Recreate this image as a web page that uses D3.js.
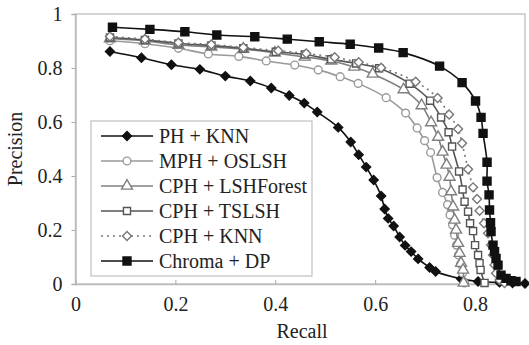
<!DOCTYPE html>
<html><head><meta charset="utf-8">
<script src="https://cdn.jsdelivr.net/npm/d3@7"></script>
<style>body{margin:0;background:#fff}svg{display:block}svg text{font-family:'Liberation Serif','Times New Roman','DejaVu Serif',serif !important;fill:#222}</style>
</head><body><svg id="c" width="529" height="345"></svg>
<script>
const seriesNames = ["PH + KNN","MPH + OSLSH","CPH + LSHForest","CPH + TSLSH","CPH + KNN","Chroma + DP"];
const xTicks = [0,0.2,0.4,0.6,0.8];
const yTicks = [0,0.2,0.4,0.6,0.8,1];

const phKnn = [[0.069,0.861],[0.132,0.838],[0.192,0.812],[0.249,0.795],[0.300,0.770],[0.350,0.752],[0.392,0.726],[0.428,0.698],[0.458,0.670],[0.484,0.637],[0.526,0.580],[0.551,0.526],[0.567,0.479],[0.582,0.433],[0.597,0.385],[0.612,0.326],[0.619,0.278],[0.626,0.243],[0.637,0.215],[0.649,0.174],[0.660,0.143],[0.672,0.120],[0.686,0.093],[0.709,0.061],[0.721,0.046],[0.772,0.019],[0.806,0.009],[0.849,0.006],[0.875,0.004],[0.900,0.002]];
const mphOslsh = [[0.069,0.901],[0.139,0.890],[0.206,0.873],[0.266,0.852],[0.327,0.843],[0.382,0.826],[0.439,0.811],[0.486,0.793],[0.530,0.768],[0.566,0.743],[0.622,0.690],[0.661,0.633],[0.684,0.578],[0.699,0.531],[0.711,0.487],[0.724,0.394],[0.735,0.339],[0.745,0.294],[0.750,0.256],[0.755,0.219],[0.759,0.181],[0.763,0.144],[0.767,0.107],[0.771,0.074],[0.775,0.041],[0.779,0.004]];
const cphLshf = [[0.069,0.909],[0.139,0.900],[0.206,0.885],[0.272,0.878],[0.336,0.870],[0.399,0.856],[0.459,0.841],[0.512,0.826],[0.558,0.804],[0.595,0.778],[0.657,0.720],[0.693,0.661],[0.712,0.598],[0.726,0.544],[0.735,0.489],[0.743,0.441],[0.749,0.396],[0.752,0.342],[0.756,0.286],[0.759,0.237],[0.762,0.200],[0.766,0.151],[0.769,0.114],[0.772,0.077],[0.776,0.052],[0.777,0.004]];
const cphTslsh = [[0.069,0.913],[0.139,0.904],[0.206,0.891],[0.272,0.883],[0.336,0.873],[0.401,0.860],[0.459,0.850],[0.512,0.832],[0.562,0.817],[0.608,0.799],[0.669,0.742],[0.710,0.679],[0.732,0.617],[0.747,0.562],[0.754,0.509],[0.768,0.417],[0.775,0.350],[0.779,0.305],[0.786,0.268],[0.790,0.225],[0.796,0.196],[0.800,0.144],[0.806,0.107],[0.809,0.077],[0.811,0.052],[0.819,0.004]];
const cphKnn = [[0.069,0.917],[0.139,0.907],[0.206,0.894],[0.272,0.887],[0.336,0.876],[0.406,0.864],[0.462,0.854],[0.519,0.840],[0.567,0.821],[0.612,0.801],[0.681,0.749],[0.725,0.689],[0.748,0.628],[0.766,0.574],[0.774,0.521],[0.786,0.425],[0.796,0.358],[0.804,0.315],[0.809,0.271],[0.818,0.225],[0.826,0.188],[0.832,0.144],[0.836,0.107],[0.839,0.070],[0.842,0.040],[0.849,0.015],[0.859,0.004]];
const chromaDp = [[0.074,0.951],[0.149,0.943],[0.219,0.934],[0.283,0.922],[0.359,0.916],[0.424,0.907],[0.488,0.897],[0.550,0.888],[0.607,0.874],[0.656,0.857],[0.729,0.807],[0.774,0.746],[0.801,0.678],[0.812,0.617],[0.816,0.558],[0.824,0.451],[0.824,0.381],[0.828,0.330],[0.829,0.274],[0.831,0.227],[0.832,0.194],[0.836,0.144],[0.839,0.120],[0.842,0.095],[0.846,0.070],[0.852,0.033],[0.862,0.021],[0.872,0.012],[0.882,0.009]];

const seriesData = [phKnn, mphOslsh, cphLshf, cphTslsh, cphKnn, chromaDp];
const FONT = "'Liberation Serif','Times New Roman','DejaVu Serif',serif";
const FS = 20;
const styles = [
  {color:"#111", sym:d3.symbolSquare, rot:45, size:40, fill:"#111", dash:null},
  {color:"#9a9a9a", sym:d3.symbolCircle, rot:0, size:48, fill:"#fff", dash:null},
  {color:"#808080", sym:d3.symbolTriangle, rot:0, size:52, fill:"#fff", dash:null},
  {color:"#555", sym:d3.symbolSquare, rot:0, size:50, fill:"#fff", dash:null},
  {color:"#777", sym:d3.symbolSquare, rot:45, size:40, fill:"#fff", dash:"2,4"},
  {color:"#111", sym:d3.symbolSquare, rot:0, size:64, fill:"#111", dash:null}
];

const svg = d3.select("#c");
const L=75.5, R=525, T=14, B=284;
const x = d3.scaleLinear().domain([0,0.9]).range([L,R]);
const y = d3.scaleLinear().domain([0,1]).range([B,T]);

svg.append("rect").attr("x",L).attr("y",T).attr("width",R-L).attr("height",B-T)
  .attr("fill","none").attr("stroke","#c8c8c8").attr("stroke-width",1.5);

const xa = svg.append("g").attr("transform",`translate(0,${B})`)
  .call(d3.axisBottom(x).tickValues(xTicks).tickSize(-4).tickPadding(13).tickFormat(d=>d===0?"0":d3.format(".1f")(d)));
const ya = svg.append("g").attr("transform",`translate(${L},0)`)
  .call(d3.axisLeft(y).tickValues(yTicks).tickSize(4).tickPadding(9).tickFormat(d=>(d===0||d===1)?String(d):d3.format(".1f")(d)));
[xa,ya].forEach(a=>{
  a.attr("font-family",FONT).attr("font-size",FS);
  a.select(".domain").attr("stroke","#bbb").attr("stroke-width",1.5);
  a.selectAll(".tick line").attr("stroke","#aaa");
  a.selectAll("text").attr("fill","#222").attr("font-family",FONT);
});

const line = d3.line().x(d=>x(d[0])).y(d=>y(d[1])).curve(d3.curveCatmullRom.alpha(0.5));

seriesData.forEach((data,i)=>{
  const s = styles[i];
  const g = svg.append("g");
  g.append("path").datum(data).attr("d",line).attr("fill","none")
    .attr("stroke",s.color).attr("stroke-width",1.6).attr("stroke-dasharray",s.dash);
  g.selectAll("path.m").data(data).join("path").attr("class","m")
    .attr("transform",d=>`translate(${x(d[0])},${y(d[1])}) rotate(${s.rot})`)
    .attr("d",d3.symbol().type(s.sym).size(s.size))
    .attr("fill",s.fill).attr("stroke",s.color).attr("stroke-width",1.4);
});

const lg = svg.append("g");
lg.append("rect").attr("x",91).attr("y",121).attr("width",221).attr("height",155)
  .attr("fill","#fff").attr("stroke","#c0c0c0").attr("stroke-width",1.2);
seriesNames.forEach((name,i)=>{
  const s = styles[i];
  const cy = 136 + i*25;
  lg.append("line").attr("x1",101).attr("x2",153).attr("y1",cy).attr("y2",cy)
    .attr("stroke",s.color).attr("stroke-width",1.6).attr("stroke-dasharray",s.dash);
  lg.append("path").attr("transform",`translate(127,${cy}) rotate(${s.rot})`)
    .attr("d",d3.symbol().type(s.sym).size(s.size))
    .attr("fill",s.fill).attr("stroke",s.color).attr("stroke-width",1.4);
  lg.append("text").attr("x",159).attr("y",cy).attr("dy","0.35em").attr("font-size",FS).attr("font-family",FONT).text(name);
});

svg.append("text").attr("x",302).attr("y",338).attr("text-anchor","middle").attr("font-size",FS).attr("font-family",FONT).text("Recall");
svg.append("text").attr("transform","translate(22,149) rotate(-90)").attr("text-anchor","middle").attr("font-size",FS).attr("font-family",FONT).text("Precision");
</script></body></html>
